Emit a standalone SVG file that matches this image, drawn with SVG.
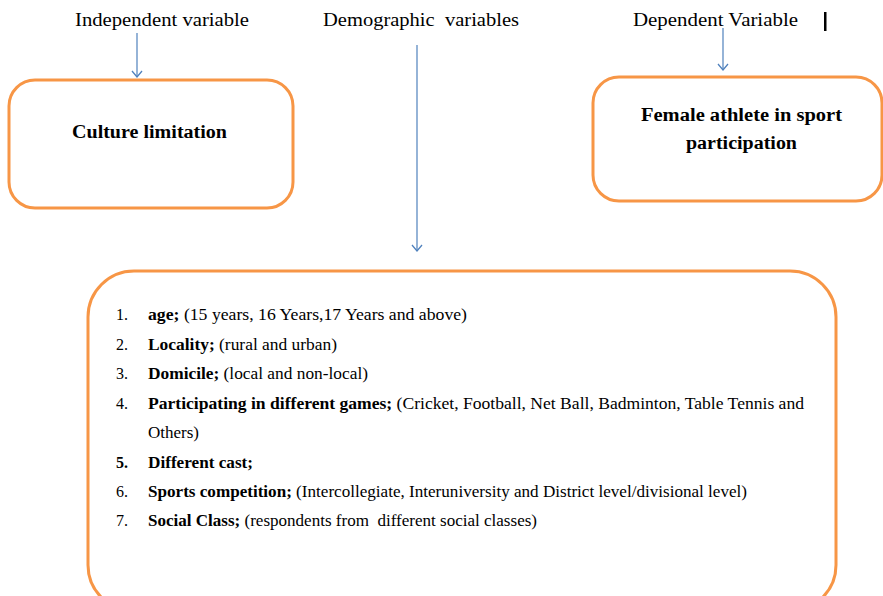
<svg xmlns="http://www.w3.org/2000/svg" width="883" height="596" viewBox="0 0 883 596">
<defs>
<marker id="v" markerWidth="12" markerHeight="12" refX="11" refY="6" orient="auto" markerUnits="userSpaceOnUse" viewBox="0 0 12 12">
<path d="M5,1 L11,6 L5,11" fill="none" stroke="#4F81BD" stroke-width="1.3"/>
</marker>
</defs>
<style>
.t{font-family:"Liberation Serif","Times New Roman",serif;fill:#000}
.hd{font-size:18px}
.b{font-weight:bold}
.box{fill:#fff;stroke:#F79646;stroke-width:3}
.li{font-size:16px}
.c{stroke:#4F81BD;stroke-width:1.2;fill:none}
</style>
<rect width="883" height="596" fill="#fff"/>
<g id="headers">
<text class="t hd" x="75" y="26" textLength="174" lengthAdjust="spacingAndGlyphs">Independent variable</text>
<text class="t hd" x="323" y="26" textLength="196" lengthAdjust="spacingAndGlyphs" xml:space="preserve">Demographic  variables</text>
<text class="t hd" x="633" y="26" textLength="165" lengthAdjust="spacingAndGlyphs">Dependent Variable</text>
<rect x="824" y="12" width="2.5" height="19" fill="#000"/>
</g>
<g id="connectors">
<line class="c" x1="137" y1="33" x2="137" y2="77" marker-end="url(#v)"/>
<line class="c" x1="417" y1="45" x2="417" y2="251" marker-end="url(#v)"/>
<line class="c" x1="723" y1="28" x2="723" y2="70" marker-end="url(#v)"/>
</g>
<g id="culture">
<rect class="box" x="9" y="80" width="284" height="128" rx="26"/>
<text class="t b" x="72" y="138" font-size="18" textLength="155" lengthAdjust="spacingAndGlyphs">Culture limitation</text>
</g>
<g id="female">
<rect class="box" x="593" y="77" width="289" height="124" rx="26"/>
<text class="t b" x="641" y="121" font-size="18" textLength="201" lengthAdjust="spacingAndGlyphs">Female athlete in sport</text>
<text class="t b" x="686" y="149" font-size="18" textLength="111" lengthAdjust="spacingAndGlyphs">participation</text>
</g>
<g id="demographics">
<rect class="box" x="88" y="271" width="748" height="340" rx="46"/>
<g class="t li">
<text x="116" y="320">1.</text><text x="148" y="320" textLength="319" lengthAdjust="spacingAndGlyphs"><tspan class="b">age;</tspan> (15 years, 16 Years,17 Years and above)</text>
<text x="116" y="350">2.</text><text x="148" y="350" textLength="189" lengthAdjust="spacingAndGlyphs"><tspan class="b">Locality;</tspan> (rural and urban)</text>
<text x="116" y="379">3.</text><text x="148" y="379" textLength="220" lengthAdjust="spacingAndGlyphs"><tspan class="b">Domicile;</tspan> (local and non-local)</text>
<text x="116" y="409">4.</text><text x="148" y="409" textLength="656" lengthAdjust="spacingAndGlyphs"><tspan class="b">Participating in different games;</tspan> (Cricket, Football, Net Ball, Badminton, Table Tennis and</text>
<text x="148" y="438" textLength="51" lengthAdjust="spacingAndGlyphs">Others)</text>
<text x="116" y="468" class="b">5.</text><text x="148" y="468" class="b" textLength="105" lengthAdjust="spacingAndGlyphs">Different cast;</text>
<text x="116" y="497">6.</text><text x="148" y="497" textLength="599" lengthAdjust="spacingAndGlyphs"><tspan class="b">Sports competition;</tspan> (Intercollegiate, Interuniversity and District level/divisional level)</text>
<text x="116" y="526">7.</text><text x="148" y="526" xml:space="preserve" textLength="389" lengthAdjust="spacingAndGlyphs"><tspan class="b">Social Class;</tspan> (respondents from  different social classes)</text>
</g>
</g>
</svg>
